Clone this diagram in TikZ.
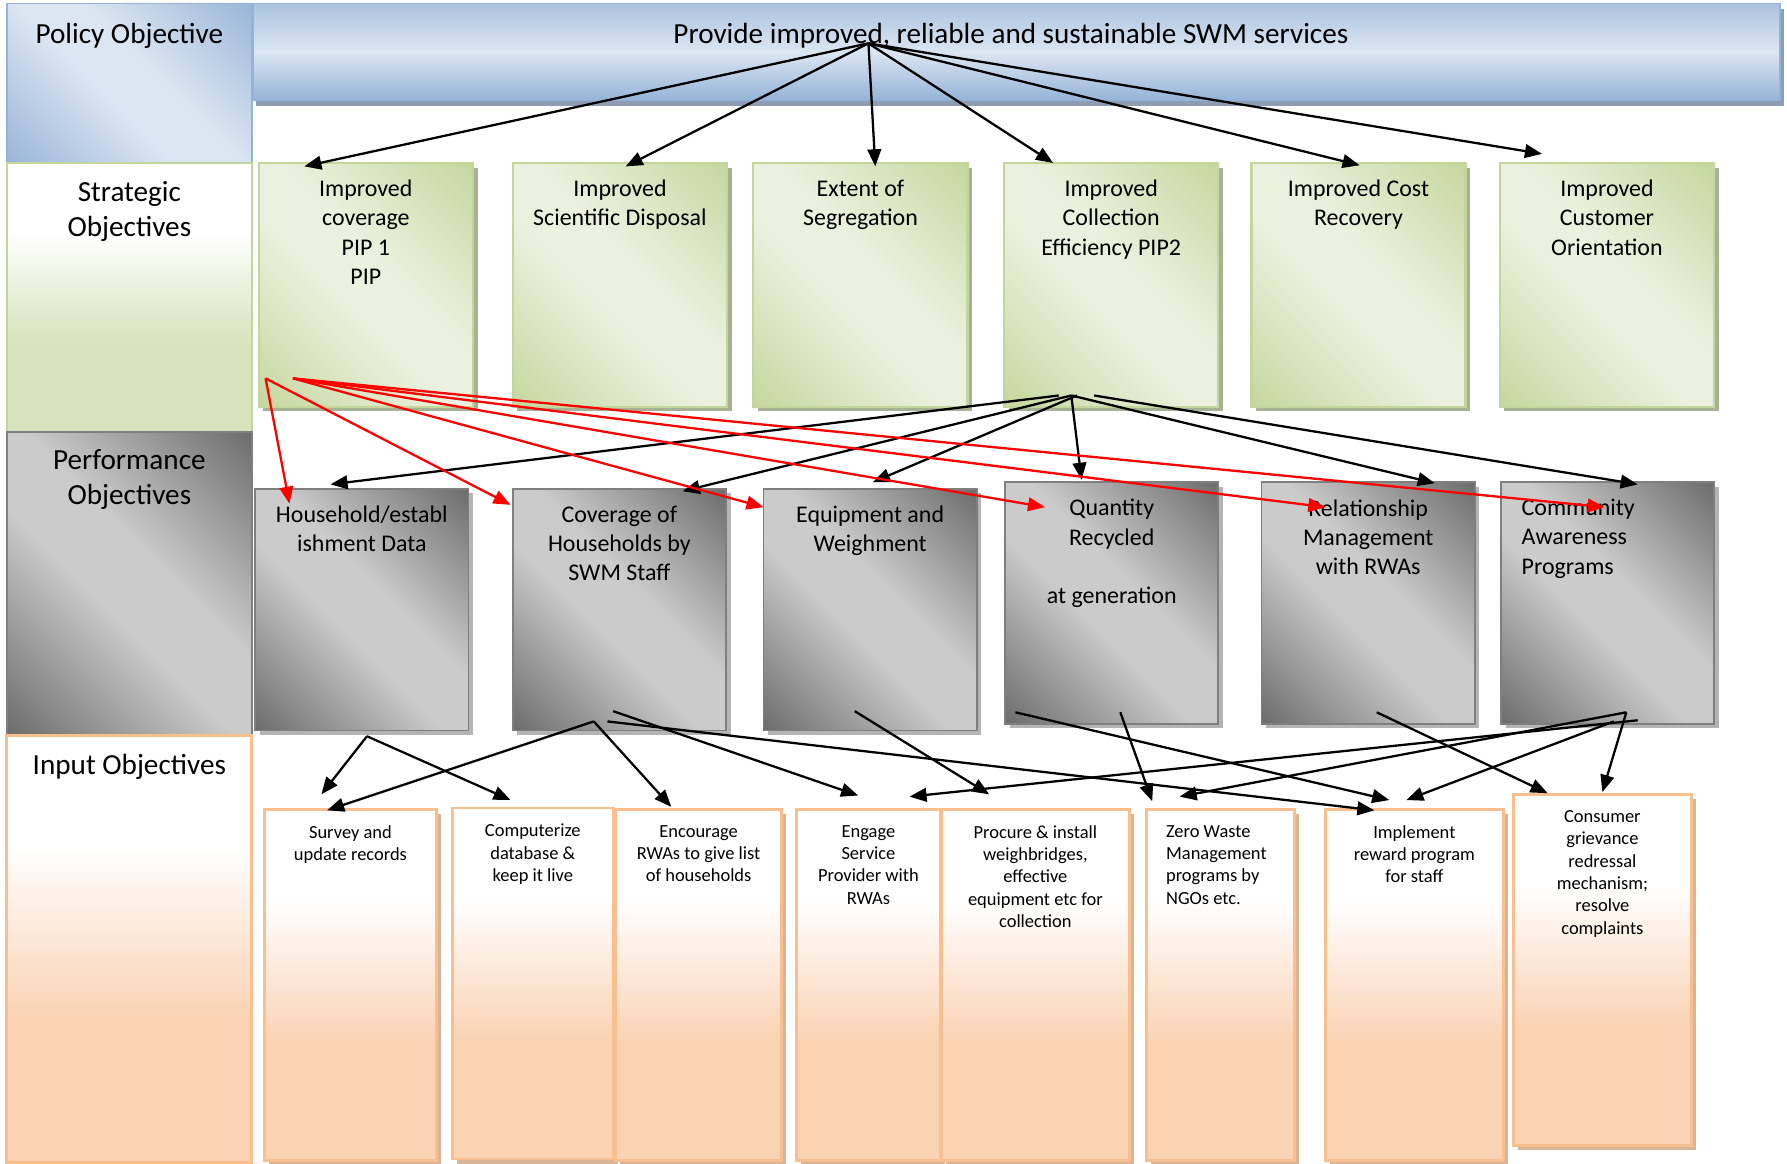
\documentclass[tikz,border=0pt]{standalone}
\usepackage{fontspec}
\setmainfont{Carlito}
\usepackage{xcolor}
\usepackage{tikz}
\usetikzlibrary{arrows.meta,shadows}
\definecolor{cbluel}{HTML}{DCE6F2}
\definecolor{cblued}{HTML}{95B3D7}
\definecolor{cbluesh}{HTML}{8E9DB3}
\definecolor{cgreenl}{HTML}{EBF1DE}
\definecolor{cgreend}{HTML}{C3D69B}
\definecolor{cgreenlbl}{HTML}{D7E4BD}
\definecolor{cgreensh}{HTML}{A7B294}
\definecolor{cgrayl}{HTML}{CBCBCB}
\definecolor{cgrayd}{HTML}{676767}
\definecolor{cgrayb}{HTML}{7F7F7F}
\definecolor{cgraysh}{HTML}{B4B4B4}
\definecolor{cpeach}{HTML}{FAD3B4}
\definecolor{cpeachb}{HTML}{F9BF8F}
\definecolor{cpeachsh}{HTML}{D9B497}
\pgfdeclareverticalshading{diaggray}{100bp}{color(0bp)=(cgrayd); color(13bp)=(cgrayd); color(44bp)=(cgrayl);
  color(56bp)=(cgrayl); color(87bp)=(cgrayd); color(100bp)=(cgrayd)}
\pgfdeclareverticalshading{diaggreen}{100bp}{color(0bp)=(cgreend); color(13bp)=(cgreend); color(44bp)=(cgreenl);
  color(56bp)=(cgreenl); color(87bp)=(cgreend); color(100bp)=(cgreend)}
\pgfdeclareverticalshading{diagblue}{100bp}{color(0bp)=(cblued); color(13bp)=(cblued); color(44bp)=(cbluel);
  color(56bp)=(cbluel); color(87bp)=(cblued); color(100bp)=(cblued)}
\pgfdeclareverticalshading{fadegreen}{100bp}{color(0bp)=(cgreenlbl); color(42bp)=(cgreenlbl); color(62bp)=(white);
  color(100bp)=(white)}
\pgfdeclareverticalshading{fadepeach}{100bp}{color(0bp)=(cpeach); color(42bp)=(cpeach); color(62bp)=(white);
  color(100bp)=(white)}
\tikzset{
  box/.style={anchor=north west,inner sep=0pt,outer sep=0pt},
  bluediag/.style={box,draw=cblued,line width=1.5pt,shading=diagblue,shading angle=-45},
  graydiag/.style={box,draw=cgrayb,line width=1.5pt,shading=diaggray,shading angle=-45},
  stratbox/.style={box,draw=cgreend,line width=2pt,shading=diaggreen,shading angle=-45,
    minimum width=188pt,minimum height=214pt,
    drop shadow={shadow xshift=4pt,shadow yshift=-4pt,fill=cgreensh,opacity=1}},
  perfbox/.style={graydiag,minimum width=187pt,minimum height=212pt,
    drop shadow={shadow xshift=4pt,shadow yshift=-4pt,fill=cgraysh,opacity=1}},
  inpbox/.style={box,draw=cpeachb,line width=2.5pt,shading=fadepeach,minimum height=308pt,
    drop shadow={shadow xshift=4pt,shadow yshift=-4pt,fill=cpeachsh,opacity=1}},
  lbltxt/.style={anchor=north,inner sep=0pt,align=center,font=\fontsize{25.6}{31}\selectfont},
  boxtxt/.style={anchor=north,inner sep=0pt,align=center,font=\fontsize{21}{25.5}\selectfont},
  inptxt/.style={anchor=north,inner sep=0pt,align=center,font=\fontsize{16.2}{19.6}\selectfont},
  blk/.style={line width=2pt,-{Triangle[length=15pt,width=12pt]}},
  redarr/.style={red,line width=2pt,-{Triangle[length=15pt,width=12pt]}}
}

\begin{document}
\begin{tikzpicture}[x=1pt,y=-1pt]
\useasboundingbox (0,0) rectangle (1568,1021);
% left column
\node[bluediag,minimum width=215pt,minimum height=140pt] (polc) at (6,3) {};
\node[box,draw=cblued,line width=1.5pt,top color=cblued!70!cbluel,bottom color=cblued,middle color=cbluel,
  minimum width=1340pt,minimum height=85pt,
  drop shadow={shadow xshift=3pt,shadow yshift=-5pt,fill=cbluesh,opacity=1}] (ban) at (222,3) {};
\node[box,draw=cgreend,line width=2pt,shading=fadegreen,minimum width=215pt,minimum height=236pt] (stc) at (6,143) {};
\node[graydiag,minimum width=215pt,minimum height=266pt] (pfc) at (6,379) {};
\node[box,draw=cpeachb,line width=2.5pt,shading=fadepeach,minimum width=215pt,minimum height=375pt] (inc) at (6,645) {};
\node[lbltxt] (polt) at ([yshift=-17pt]polc.north) {Policy Objective};
\node[lbltxt] (bant) at ([xshift=-5pt,yshift=-17pt]ban.north) {Provide improved, reliable and sustainable SWM services};
\node[lbltxt] (stct) at ([yshift=-16pt]stc.north) {Strategic\\Objectives};
\node[lbltxt] (pfct) at ([yshift=-15pt]pfc.north) {Performance\\Objectives};
\node[lbltxt] (inct) at ([yshift=-17pt]inc.north) {Input Objectives};

% strategic objectives
\foreach \i/\x/\txt in {1/227/{Improved\\coverage\\PIP 1\\PIP},2/450/{Improved\\Scientific Disposal},
    3/661/{Extent of\\Segregation},4/881/{Improved\\Collection\\Efficiency PIP2},
    5/1098/{Improved Cost\\Recovery},6/1316/{Improved\\Customer\\Orientation}}{
  \node[stratbox] (s\i) at (\x,143) {};
  \node[boxtxt] (s\i t) at ([yshift=-15pt]s\i.north) {\txt};
}

% performance objectives
\foreach \i/\x/\y in {1/224/429,2/450/429,3/670/429,4/882/423,5/1107/423,6/1317/423}
  \node[perfbox] (p\i) at (\x,\y) {};
\foreach \i/\txt in {1/{Household/establ\\ishment Data},2/{Coverage of\\Households by\\SWM Staff},
    3/{Equipment and\\Weighment},4/{Quantity\\Recycled\\[25.5pt]at generation},5/{Relationship\\Management\\with RWAs}}
  \node[boxtxt] (p\i t) at ([yshift=-15pt]p\i.north) {\txt};
\node[boxtxt,anchor=north west,align=left] (p6t) at ([xshift=18pt,yshift=-15pt]p6.north west) {Community\\Awareness\\Programs};

% input objectives
\foreach \i/\x/\y/\w in {1/232/710/151,2/397/709/141,3/540/710/146,4/699/710/126,
    5/826/710/165,6/1006/710/130,7/1163/710/156,8/1328/697/156}
  \node[inpbox,minimum width=\w pt] (i\i) at (\x,\y) {};
\foreach \i/\txt in {1/{Survey and\\update records},2/{Computerize\\database \&\\keep it live},
    3/{Encourage\\RWAs to give list\\of households},4/{Engage\\Service\\Provider with\\RWAs},
    5/{Procure \& install\\weighbridges,\\effective\\equipment etc for\\collection},
    7/{Implement\\reward program\\for staff},8/{Consumer\\grievance\\redressal\\mechanism;\\resolve\\complaints}}
  \node[inptxt] (i\i t) at ([yshift=-14pt]i\i.north) {\txt};
\node[inptxt,anchor=north west,align=left] (i6t) at ([xshift=17pt,yshift=-14pt]i6.north west) {Zero Waste\\Management\\programs by\\NGOs etc.};

% connectors
\coordinate (phub) at (762,38);
\coordinate (shub) at (940,347);
\coordinate (rhub1) at (233,332);
\coordinate (rhub2) at (257,332);
\coordinate (hh) at (322,646);
\coordinate (cv1) at (521,633);
\coordinate (cv2) at (538,624);
\coordinate (cv3) at (533,633);
\coordinate (eq) at (750,624);
\coordinate (qa) at (891,625);
\coordinate (qb) at (983,625);
\coordinate (rl) at (1208,625);
\coordinate (cma) at (1427,625);
\coordinate (cmb) at (1437,632);
\coordinate (cmc) at (1416,633);
\foreach \b/\dx/\dy in {s1/40/-3,s2/99/-3,s3/107/-3,s4/43/0,s5/95/-2,s6/37/8}
  \draw[blk] (phub) -- ([xshift=\dx pt,yshift=\dy pt]\b.north west);
\foreach \b/\sx/\dx/\dy in {p1/-11/66/4,p2/0/149/-2,p3/5/96/6,p4/0/67/2,p5/0/152/-1,p6/20/120/-2}
  \draw[blk] ([xshift=\sx pt]shub) -- ([xshift=\dx pt,yshift=\dy pt]\b.north west);
\foreach \h/\b/\dx/\dy in {hh/i1/50/13,hh/i2/51/7,cv1/i1/55/-1,cv1/i3/49/2,cv2/i4/54/12,cv3/i7/43/-1,
    eq/i5/42/13,qa/i7/56/8,qb/i6/5/7,rl/i8/30/1,cmb/i5/-28/11,cma/i6/29/11,cmc/i7/71/8,cma/i8/78/2}
  \draw[blk] (\h) -- ([xshift=\dx pt,yshift=\dy pt]\b.north west);
\foreach \h/\b/\dx/\dy in {rhub1/p1/30/-13,rhub1/p2/-2/-14,rhub2/p3/0/-16,rhub2/p4/35/-22,rhub2/p5/56/-22,rhub2/p6/91/-22}
  \draw[redarr] (\h) -- ([xshift=\dx pt,yshift=\dy pt]\b.north west);
\end{tikzpicture}
\end{document}
